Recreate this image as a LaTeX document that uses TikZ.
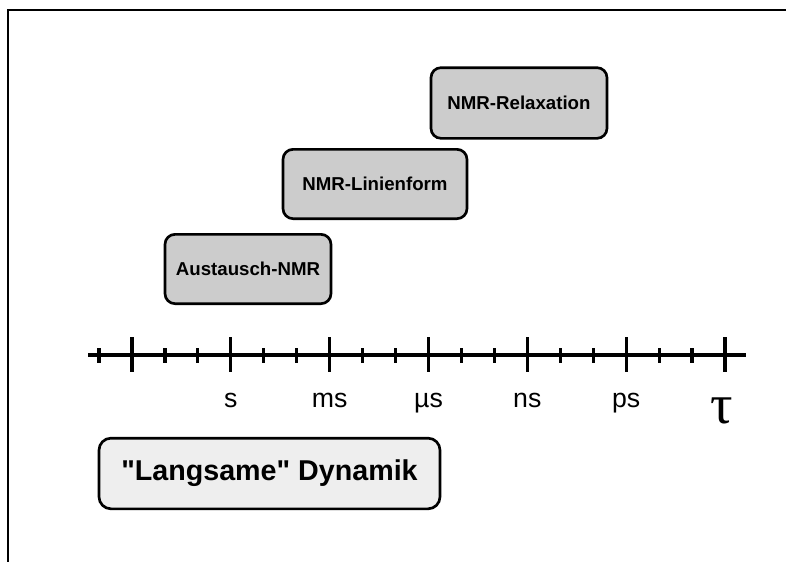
\documentclass[tikz,border=0pt]{standalone}
\usepackage{fontspec}
\setmainfont{Liberation Sans}
\newfontfamily\taufont{Liberation Serif}
\usepackage{xcolor}
\definecolor{methodgray}{HTML}{CCCCCC}
\definecolor{slowgray}{HTML}{EEEEEE}
\tikzset{method/.style={draw,line width=2pt,rounded corners=7.5pt,
    fill=methodgray,inner sep=0pt,font=\bfseries\fontsize{14}{16}\selectfont},
  ticklabel/.style={inner sep=0pt,anchor=base,font=\fontsize{20}{22}\selectfont}}

\begin{document}
\begin{tikzpicture}[x=0.75pt,y=-0.75pt]
  \useasboundingbox (0,0) rectangle (786,562);
  \draw[line width=1.5pt] (786,10) -- (8,10) -- (8,562);
  % methods
  \node[method,minimum width=132pt,minimum height=53pt] (relax) at (519,103) {NMR-Relaxation};
  \node[method,minimum width=138pt,minimum height=52pt] (linie) at (375,184) {NMR-Linienform};
  \node[method,minimum width=124.5pt,minimum height=52pt] (austausch) at (248,269) {Austausch-NMR};
  % time axis
  \coordinate (axL) at (88,355);
  \coordinate (axR) at (746,355);
  \draw[line width=3pt] (axL) -- (axR);
  \foreach \i in {-1,...,18} {
    \pgfmathtruncatemacro{\m}{mod(\i+3,3)}
    \ifnum\m=0
      \draw[line width=2.4pt] ({132+\i*32.944},337) -- ({132+\i*32.944},372);
    \else
      \draw[line width=2.4pt] ({132+\i*32.944},348) -- ({132+\i*32.944},363);
    \fi
  }
  \foreach \lab [count=\i] in {s,ms,µs,ns,ps}
    \node[ticklabel] (lab\i) at ({132+\i*98.83},407) {\lab};
  \node[inner sep=0pt,anchor=base,font=\taufont\fontsize{42}{42}\selectfont] (tau) at (722,423) {τ};
  % slow dynamics
  \node[draw,line width=2pt,rounded corners=9pt,fill=slowgray,inner sep=0pt,
    minimum width=255.75pt,minimum height=53pt,font=\bfseries\fontsize{21.5}{24}\selectfont]
    (slow) at (269.5,473.5) {\textquotedbl Langsame\textquotedbl\ Dynamik};
\end{tikzpicture}
\end{document}
